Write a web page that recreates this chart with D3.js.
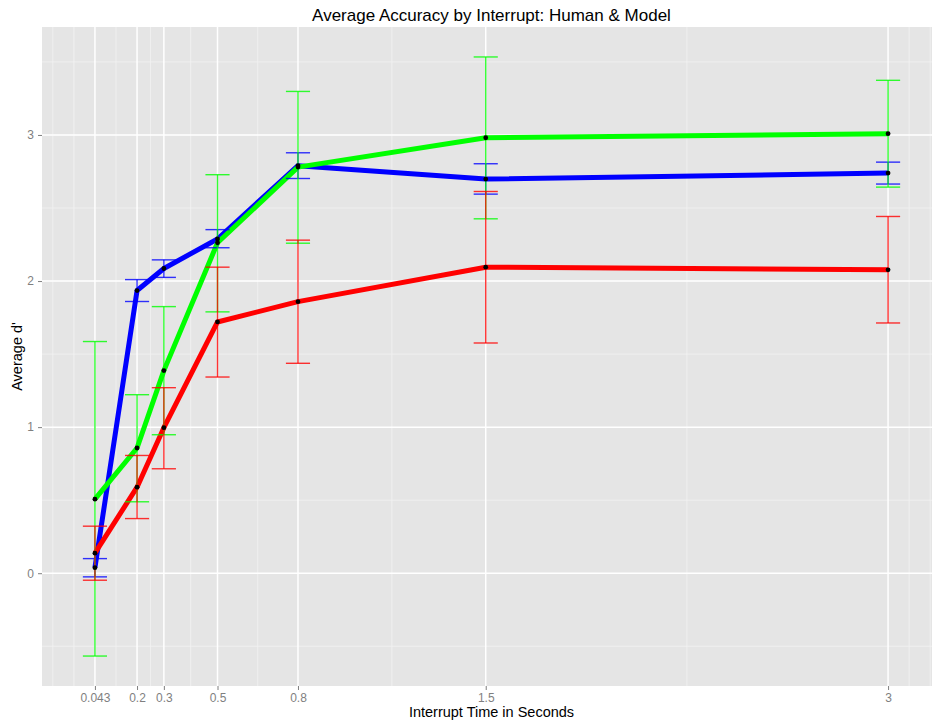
<!DOCTYPE html>
<html>
<head>
<meta charset="utf-8">
<script src="https://cdn.jsdelivr.net/npm/d3@7"></script>
<style>
  html, body { margin: 0; padding: 0; background: #ffffff; }
  svg { display: block; font-family: "Liberation Sans", Arial, Helvetica, sans-serif; }
</style>
</head>
<body>
<svg id="chart" width="932" height="723"></svg>
<script>
// Interrupt times (seconds) and tick labels on the x axis
const interruptTimes = [0.043, 0.2, 0.3, 0.5, 0.8, 1.5, 3];
const xTickLabels = ["0.043", "0.2", "0.3", "0.5", "0.8", "1.5", "3"];
const yTickValues = [0, 1, 2, 3];

// Series names and colours
const seriesNames = ["Blue", "Green", "Red"];
const seriesColors = ["#0000ff", "#00ff00", "#ff0000"];

// Average d' per interrupt time, with lower / upper error limits
const blueMean  = [0.038, 1.935, 2.086, 2.288, 2.790, 2.698, 2.739];
const blueLow   = [-0.025, 1.860, 2.025, 2.228, 2.702, 2.595, 2.664];
const blueHigh  = [0.100, 2.010, 2.145, 2.352, 2.878, 2.803, 2.814];

const greenMean = [0.507, 0.857, 1.387, 2.262, 2.780, 2.981, 3.009];
const greenLow  = [-0.567, 0.489, 0.948, 1.789, 2.259, 2.426, 2.643];
const greenHigh = [1.586, 1.222, 1.825, 2.728, 3.298, 3.534, 3.374];

const redMean   = [0.137, 0.589, 0.996, 1.720, 1.859, 2.095, 2.077];
const redLow    = [-0.048, 0.374, 0.715, 1.343, 1.437, 1.576, 1.713];
const redHigh   = [0.322, 0.806, 1.270, 2.095, 2.280, 2.613, 2.442];

const series = [
  { name: seriesNames[0], color: seriesColors[0], mean: blueMean,  low: blueLow,  high: blueHigh },
  { name: seriesNames[1], color: seriesColors[1], mean: greenMean, low: greenLow, high: greenHigh },
  { name: seriesNames[2], color: seriesColors[2], mean: redMean,   low: redLow,   high: redHigh }
];

const titleText = "Average Accuracy by Interrupt: Human & Model";
const xTitle = "Interrupt Time in Seconds";
const yTitle = "Average d'";

// Layout
const panel = { left: 42, right: 941, top: 27, bottom: 686 };
const capHalf = 0.045; // half width of error-bar caps, in x units

const svg = d3.select("#chart");

// Domains with 5% expansion around the data (caps included on x)
const xLo = d3.min(interruptTimes) - capHalf, xHi = d3.max(interruptTimes) + capHalf;
const xPad = 0.05 * (xHi - xLo);
const yLo = d3.min(series, s => d3.min(s.low)), yHi = d3.max(series, s => d3.max(s.high));
const yPad = 0.05 * (yHi - yLo);

const x = d3.scaleLinear().domain([xLo - xPad, xHi + xPad]).range([panel.left, panel.right]);
const y = d3.scaleLinear().domain([yLo - yPad, yHi + yPad]).range([panel.bottom, panel.top]);

// Panel background
svg.append("rect")
  .attr("x", panel.left).attr("y", panel.top)
  .attr("width", panel.right - panel.left).attr("height", panel.bottom - panel.top)
  .attr("fill", "#e5e5e5");

// Minor breaks: midpoints between majors, with the first spacing used to extend beyond the ends
function minorBreaks(b, domain) {
  const bd = b[1] - b[0];
  let ext = b.slice();
  if (domain[0] < b[0]) ext = [b[0] - bd].concat(ext);
  if (domain[1] > b[b.length - 1]) ext = ext.concat([b[b.length - 1] + bd]);
  const out = [];
  for (let i = 0; i < ext.length - 1; i++) { out.push(ext[i]); out.push((ext[i] + ext[i + 1]) / 2); }
  out.push(ext[ext.length - 1]);
  return out.filter(v => b.indexOf(v) < 0 && v >= domain[0] && v <= domain[1]);
}

const grid = svg.append("g");
const xMinor = minorBreaks(interruptTimes, x.domain());
const yMinor = minorBreaks(yTickValues, y.domain());

grid.selectAll(".ymin").data(yMinor).join("line")
  .attr("x1", panel.left).attr("x2", panel.right)
  .attr("y1", d => y(d)).attr("y2", d => y(d))
  .attr("stroke", "#f2f2f2").attr("stroke-width", 0.8);
grid.selectAll(".xmin").data(xMinor).join("line")
  .attr("y1", panel.top).attr("y2", panel.bottom)
  .attr("x1", d => x(d)).attr("x2", d => x(d))
  .attr("stroke", "#f2f2f2").attr("stroke-width", 0.8);
grid.selectAll(".ymaj").data(yTickValues).join("line")
  .attr("x1", panel.left).attr("x2", panel.right)
  .attr("y1", d => y(d)).attr("y2", d => y(d))
  .attr("stroke", "#ffffff").attr("stroke-width", 1.5);
grid.selectAll(".xmaj").data(interruptTimes).join("line")
  .attr("y1", panel.top).attr("y2", panel.bottom)
  .attr("x1", d => x(d)).attr("x2", d => x(d))
  .attr("stroke", "#ffffff").attr("stroke-width", 1.5);

// Lines
const line = d3.line().x((d, i) => x(interruptTimes[i])).y(d => y(d));
const plot = svg.append("g");
series.forEach(s => {
  plot.append("path")
    .datum(s.mean)
    .attr("d", line)
    .attr("fill", "none")
    .attr("stroke", s.color)
    .attr("stroke-width", 5)
    .attr("stroke-linejoin", "round");
});

// Error bars
series.forEach(s => {
  const g = plot.append("g")
    .attr("stroke", s.color).attr("stroke-width", 1.4).attr("stroke-opacity", 0.8);
  interruptTimes.forEach((t, i) => {
    g.append("line").attr("x1", x(t)).attr("x2", x(t)).attr("y1", y(s.low[i])).attr("y2", y(s.high[i]));
    g.append("line").attr("x1", x(t - capHalf)).attr("x2", x(t + capHalf)).attr("y1", y(s.low[i])).attr("y2", y(s.low[i]));
    g.append("line").attr("x1", x(t - capHalf)).attr("x2", x(t + capHalf)).attr("y1", y(s.high[i])).attr("y2", y(s.high[i]));
  });
});

// Points
series.forEach(s => {
  plot.append("g").selectAll("circle").data(s.mean).join("circle")
    .attr("cx", (d, i) => x(interruptTimes[i]))
    .attr("cy", d => y(d))
    .attr("r", 2.4)
    .attr("fill", "#000000");
});

// Axes
const xAxis = d3.axisBottom(x).tickValues(interruptTimes)
  .tickFormat((d, i) => xTickLabels[i]).tickSize(4).tickPadding(3);
const yAxis = d3.axisLeft(y).tickValues(yTickValues)
  .tickFormat(d3.format("d")).tickSize(4).tickPadding(4);

const gx = svg.append("g").attr("transform", `translate(0,${panel.bottom})`).call(xAxis);
const gy = svg.append("g").attr("transform", `translate(${panel.left},0)`).call(yAxis);
[gx, gy].forEach(g => {
  g.select(".domain").remove();
  g.selectAll(".tick line").attr("stroke", "#7f7f7f");
  g.selectAll(".tick text").attr("fill", "#7f7f7f")
    .style("font-size", "12px").style("font-family", "Liberation Sans, Arial, sans-serif");
});

// Titles
svg.append("text")
  .attr("x", (panel.left + panel.right) / 2).attr("y", 21)
  .attr("text-anchor", "middle").style("font-size", "17px").attr("fill", "#000")
  .text(titleText);
svg.append("text")
  .attr("x", (panel.left + panel.right) / 2).attr("y", 717)
  .attr("text-anchor", "middle").style("font-size", "14.5px").attr("fill", "#000")
  .text(xTitle);
svg.append("text")
  .attr("transform", `translate(22,${(panel.top + panel.bottom) / 2}) rotate(-90)`)
  .attr("text-anchor", "middle").style("font-size", "14.5px").attr("fill", "#000")
  .text(yTitle);
</script>
</body>
</html>
